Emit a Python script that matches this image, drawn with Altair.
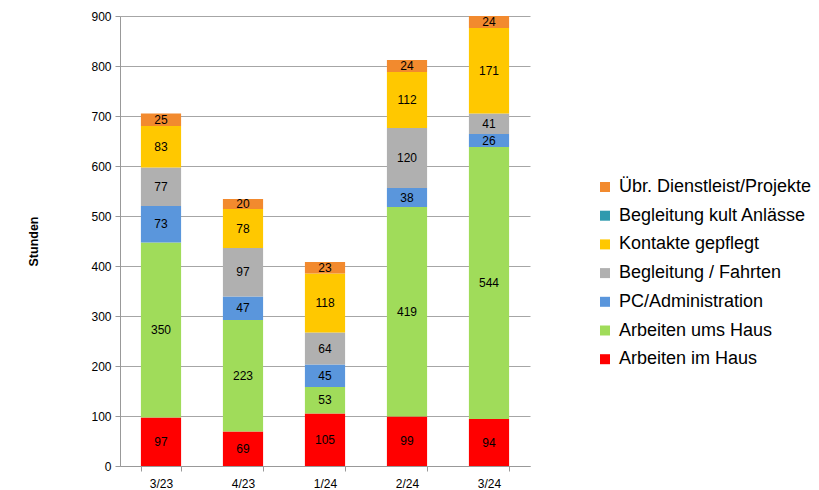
import altair as alt
import pandas as pd

categories = ["3/23", "4/23", "1/24", "2/24", "3/24"]
arbeiten_im_haus = [97, 69, 105, 99, 94]
arbeiten_ums_haus = [350, 223, 53, 419, 544]
pc_admin = [73, 47, 45, 38, 26]
begleitung_fahrten = [77, 97, 64, 120, 41]
kontakte = [83, 78, 118, 112, 171]
begleitung_kult = [0, 0, 0, 0, 0]
uebr = [25, 20, 23, 24, 24]

# bottom-to-top stacking order
series = [
    ("Arbeiten im Haus", arbeiten_im_haus, "#FF0000"),
    ("Arbeiten ums Haus", arbeiten_ums_haus, "#A0DC5A"),
    ("PC/Administration", pc_admin, "#5A96DC"),
    ("Begleitung / Fahrten", begleitung_fahrten, "#B0B0B0"),
    ("Kontakte gepflegt", kontakte, "#FFC800"),
    ("Begleitung kult Anlässe", begleitung_kult, "#2F9AAE"),
    ("Übr. Dienstleist/Projekte", uebr, "#F28A2E"),
]

rows = []
for i, (name, vals, _) in enumerate(series):
    for c, v in zip(categories, vals):
        rows.append({"period": c, "series": name, "value": v, "order": i})
df = pd.DataFrame(rows)

legend_domain = [s[0] for s in reversed(series)]
legend_range = [s[2] for s in reversed(series)]

base = alt.Chart(df).transform_stack(
    stack="value", groupby=["period"], sort=[{"field": "order", "order": "ascending"}], as_=["y0", "y1"]
).transform_calculate(mid="(datum.y0 + datum.y1) / 2")

x_enc = alt.X(
    "period:N",
    sort=categories,
    title=None,
    scale=alt.Scale(paddingInner=0.51, paddingOuter=0.255),
    axis=alt.Axis(
        labelAngle=0, labelFontSize=12, labelColor="#000000", labelFont="Liberation Sans",
        tickBand="extent", domainColor="#999999", tickColor="#999999", tickSize=5,
        labelPadding=7, grid=False,
    ),
)

bars = base.mark_bar().encode(
    x=x_enc,
    y=alt.Y(
        "y0:Q",
        title="Stunden",
        scale=alt.Scale(domain=[0, 900], nice=False),
        axis=alt.Axis(
            values=list(range(0, 901, 100)), labelFontSize=12, labelColor="#000000",
            labelFont="Liberation Sans", gridColor="#A6A6A6", domainColor="#999999",
            tickColor="#999999", tickSize=5, labelPadding=4,
            titleFont="Liberation Sans", titleFontSize=12.5, titleFontWeight="bold",
            titleColor="#000000", titleAngle=270, titleX=-87, titleY=225,
            titleAlign="center", titleBaseline="middle",
        ),
    ),
    y2="y1:Q",
    color=alt.Color(
        "series:N",
        scale=alt.Scale(domain=legend_domain, range=legend_range),
        legend=alt.Legend(
            title=None, orient="none", legendX=476, legendY=162, symbolType="square",
            symbolSize=100, symbolStrokeWidth=0, labelFontSize=18, labelFont="Liberation Sans",
            labelColor="#000000", rowPadding=10.7, labelOffset=5, labelLimit=300,
        ),
    ),
)

labels = base.transform_filter("datum.value > 0").mark_text(
    fontSize=12, font="Liberation Sans", color="#000000", baseline="middle"
).encode(
    x=alt.X("period:N", sort=categories),
    y=alt.Y("mid:Q"),
    text="value:Q",
)

chart = alt.layer(bars, labels).properties(
    width=410, height=450,
    autosize=alt.AutoSizeParams(type="none"),
    padding={"left": 112, "top": 8, "right": 281, "bottom": 24},
).configure_view(stroke=None)

chart.save("out.html", embed_options={"renderer": "svg", "actions": False})
